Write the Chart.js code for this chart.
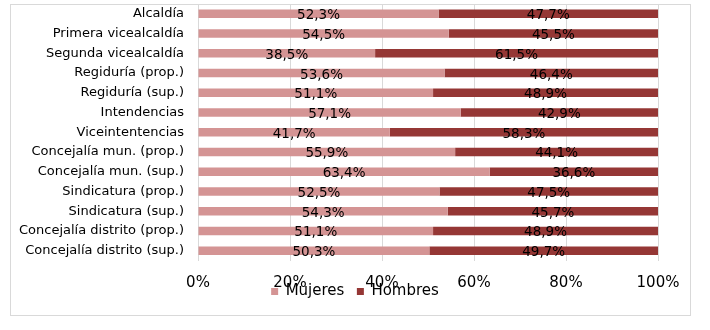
<!DOCTYPE html>
<html><head><meta charset="utf-8">
<script src="https://cdn.jsdelivr.net/npm/chart.js@4"></script>
<style>html,body{margin:0;padding:0;background:#fff}#w{width:710px;height:330px}</style>
</head><body><div id="w"><canvas id="c" width="710" height="330"></canvas></div>
<script>
const categories = ["Alcaldía","Primera vicealcaldía","Segunda vicealcaldía","Regiduría (prop.)","Regiduría (sup.)","Intendencias","Viceintentencias","Concejalía mun. (prop.)","Concejalía mun. (sup.)","Sindicatura (prop.)","Sindicatura (sup.)","Concejalía distrito (prop.)","Concejalía distrito (sup.)"];
const mujeres = [52.3,54.5,38.5,53.6,51.1,57.1,41.7,55.9,63.4,52.5,54.3,51.1,50.3];
const hombres = [47.7,45.5,61.5,46.4,48.9,42.9,58.3,44.1,36.6,47.5,45.7,48.9,49.7];
const xTicks = [0,20,40,60,80,100];
const seriesNames = ["Mujeres","Hombres"];

const FONT = "'DejaVu Sans', Verdana, sans-serif";

const frame = {
  id:'frame',
  beforeDraw(chart){
    const ctx = chart.ctx;
    ctx.save();
    ctx.fillStyle='#fff';
    ctx.fillRect(0,0,chart.width,chart.height);
    ctx.strokeStyle='#d9d9d9';
    ctx.lineWidth=1;
    ctx.strokeRect(10.5,4.5,680,311);
    ctx.restore();
  }
};
const legendShift = {
  id:'legendShift',
  afterLayout(chart){
    const lg = chart.legend;
    if (lg) { lg.top -= 19; lg.bottom -= 19; lg.left += 18; lg.right += 18; }
  }
};
const labels = {
  id:'labels',
  afterDatasetsDraw(chart){
    const ctx = chart.ctx;
    ctx.save();
    ctx.font = '13.5px ' + FONT;
    ctx.fillStyle = '#000';
    ctx.textAlign = 'center';
    ctx.textBaseline = 'middle';
    chart.data.datasets.forEach((ds,di)=>{
      const meta = chart.getDatasetMeta(di);
      meta.data.forEach((bar,i)=>{
        const left = Math.min(bar.x, bar.base), right = Math.max(bar.x, bar.base);
        const txt = ds.data[i].toFixed(1).replace('.',',') + '%';
        ctx.fillText(txt, (left+right)/2, bar.y+2);
      });
    });
    ctx.restore();
  }
};

new Chart(document.getElementById('c'), {
  type:'bar',
  data:{
    labels: categories,
    datasets:[
      {label:seriesNames[0], data:mujeres, backgroundColor:'#D49494', borderWidth:0, categoryPercentage:1, barPercentage:0.43},
      {label:seriesNames[1], data:hombres, backgroundColor:'#953735', borderWidth:0, categoryPercentage:1, barPercentage:0.43}
    ]
  },
  options:{
    indexAxis:'y',
    responsive:false,
    animation:false,
    devicePixelRatio:1,
    layout:{padding:{top:4,right:52,left:16,bottom:2}},
    plugins:{
      legend:{
        position:'bottom',
        labels:{font:{family:FONT,size:15},color:'#000',boxWidth:7,boxHeight:7,padding:12.5}
      },
      tooltip:{enabled:false}
    },
    scales:{
      x:{
        stacked:true, min:0, max:100,
        afterBuildTicks(s){ s.ticks = xTicks.map(v=>({value:v})); },
        ticks:{callback:v=>v+'%', font:{family:FONT,size:15}, color:'#000', padding:14, maxRotation:0},
        grid:{color:'#d9d9d9', drawTicks:false},
        border:{display:false},
        afterFit(s){ s.height = 30; }
      },
      y:{
        stacked:true,
        ticks:{font:{family:FONT,size:13}, color:'#000', padding:14, autoSkip:false},
        grid:{display:false, drawTicks:false},
        border:{display:false},
        afterFit(s){ s.width = 182; s.paddingTop = 0; s.paddingBottom = 0; }
      }
    }
  },
  plugins:[frame, legendShift, labels]
});
</script></body></html>
